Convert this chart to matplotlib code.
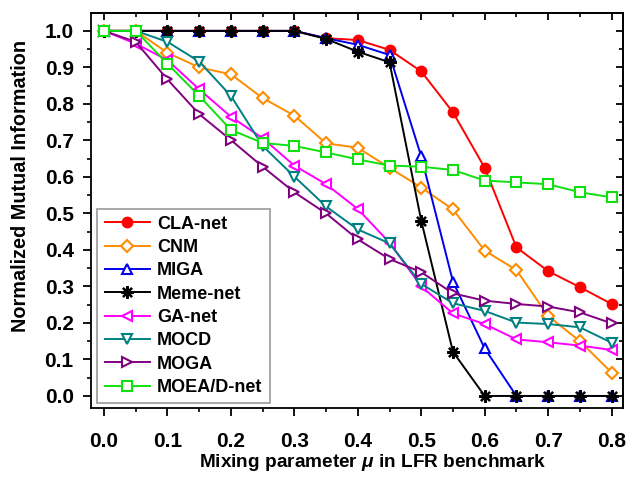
#!/usr/bin/env python

import numpy as np
import matplotlib
matplotlib.use('Agg')
import matplotlib.pyplot as plt
from matplotlib.ticker import MultipleLocator

plt.rcParams['font.family'] = ['Liberation Sans', 'DejaVu Sans']
plt.rcParams['font.weight'] = 'bold'
plt.rcParams['axes.labelweight'] = 'bold'
plt.rcParams['mathtext.fontset'] = 'custom'
plt.rcParams['mathtext.it'] = 'Liberation Sans:italic'

# mixing parameter
mu = [0.0, 0.05, 0.1, 0.15, 0.2, 0.25, 0.3, 0.35, 0.4, 0.45,
      0.5, 0.55, 0.6, 0.65, 0.7, 0.75, 0.8]

# NMI values
cla_net = [1.0, 1.0, 1.0, 1.0, 1.0, 1.0, 1.0, 0.98, 0.975, 0.948,
           0.889, 0.777, 0.625, 0.407, 0.342, 0.298, 0.252]
cnm = [1.0, 1.0, 0.94, 0.90, 0.881, 0.816, 0.768, 0.692, 0.68, 0.625,
       0.571, 0.511, 0.398, 0.345, 0.219, 0.15, 0.064]
miga = [1.0, 1.0, 1.0, 1.0, 1.0, 1.0, 1.0, 0.98, 0.962, 0.934,
        0.656, 0.313, 0.13, 0.0, 0.0, 0.0, 0.0]
meme_net = [1.0, 1.0, 1.0, 1.0, 1.0, 1.0, 1.0, 0.978, 0.943, 0.914,
            0.48, 0.121, 0.0, 0.0, 0.0, 0.0, 0.0]
ga_net = [1.0, 0.965, 0.92, 0.84, 0.765, 0.706, 0.631, 0.58, 0.512, 0.42,
          0.30, 0.226, 0.197, 0.155, 0.147, 0.138, 0.126]
mocd = [1.0, 1.0, 0.97, 0.916, 0.822, 0.685, 0.601, 0.519, 0.456, 0.418,
        0.307, 0.254, 0.233, 0.201, 0.197, 0.188, 0.146]
moga = [1.0, 0.97, 0.867, 0.772, 0.701, 0.628, 0.558, 0.50, 0.429, 0.375,
        0.339, 0.281, 0.261, 0.252, 0.245, 0.229, 0.199]
moead_net = [1.0, 1.0, 0.91, 0.822, 0.729, 0.693, 0.685, 0.667, 0.648, 0.631,
             0.628, 0.619, 0.59, 0.585, 0.58, 0.558, 0.544]

fig = plt.figure(figsize=(6.28, 4.79), dpi=100)
ax = fig.add_axes([91/628, 1 - 408/479, 532/628, 395/479])

ms = 7.5
mew = 1.5
lw = 1.4
ax.plot(mu, cla_net, '-o', color='#ff0000', lw=lw, ms=ms, mec='#ff0000', mfc='#ff0000', label='CLA-net')
ax.plot(mu, cnm, '-D', color='#ff8c00', lw=lw, ms=6.5, mew=mew, mfc='white', label='CNM')
ax.plot(mu, miga, '-^', color='#0000ee', lw=lw, ms=ms, mew=mew, mfc='white', label='MIGA')
ax.plot(mu, meme_net, '-', color='black', marker=(8, 2, 0), lw=lw, ms=9, mew=1.6, label='Meme-net')
ax.plot(mu, ga_net, '-<', color='#ff00ff', lw=lw, ms=ms, mew=mew, mfc='white', label='GA-net')
ax.plot(mu, mocd, '-v', color='#008080', lw=lw, ms=ms, mew=mew, mfc='white', label='MOCD')
ax.plot(mu, moga, '->', color='#800080', lw=lw, ms=ms, mew=mew, mfc='white', label='MOGA')
ax.plot(mu, moead_net, '-s', color='#10e010', lw=lw, ms=6.5, mew=mew, mfc='white', label='MOEA/D-net')

# 軸の範囲
ax.set_xlim(-0.0205, 0.818)
ax.set_ylim(-0.033, 1.049)

ax.xaxis.set_major_locator(MultipleLocator(0.1))
ax.xaxis.set_minor_locator(MultipleLocator(0.05))
ax.yaxis.set_major_locator(MultipleLocator(0.1))
ax.yaxis.set_minor_locator(MultipleLocator(0.05))
ax.tick_params(which='major', direction='out', length=5.5, width=1.3, labelsize=15)
ax.tick_params(which='minor', direction='out', length=3.2, width=1.2)
ax.tick_params(axis='x', which='major', pad=12)
ax.tick_params(axis='y', which='major', pad=7)

# 上と右は内向きの目盛り
top = ax.secondary_xaxis('top')
top.xaxis.set_major_locator(MultipleLocator(0.1))
top.xaxis.set_minor_locator(MultipleLocator(0.05))
top.tick_params(which='major', direction='in', length=5, width=1.3, labeltop=False)
top.tick_params(which='minor', direction='in', length=3, width=1.2)
right = ax.secondary_yaxis('right')
right.yaxis.set_major_locator(MultipleLocator(0.1))
right.yaxis.set_minor_locator(MultipleLocator(0.05))
right.tick_params(which='major', direction='in', length=5, width=1.3, labelright=False)
right.tick_params(which='minor', direction='in', length=3, width=1.2)

for sp in ax.spines.values():
    sp.set_linewidth(1.3)
top.spines['top'].set_linewidth(1.3)
right.spines['right'].set_linewidth(1.3)

ax.set_xlabel(r'Mixing parameter $\mu$ in LFR benchmark', fontsize=13.7)
ax.set_ylabel('Normalized Mutual Information', fontsize=14.3)
ax.xaxis.set_label_coords(0.53, -0.111)
ax.yaxis.set_label_coords(-0.115, 0.562)

leg = ax.legend(loc='lower left', bbox_to_anchor=(0.012, 0.012), borderaxespad=0,
                fontsize=13, fancybox=False, framealpha=1, edgecolor='#999999',
                handlelength=2.5, labelspacing=0.35, borderpad=0.4, handletextpad=0.4)
leg.get_frame().set_linewidth(1.2)

plt.savefig('out.png', dpi=100)
